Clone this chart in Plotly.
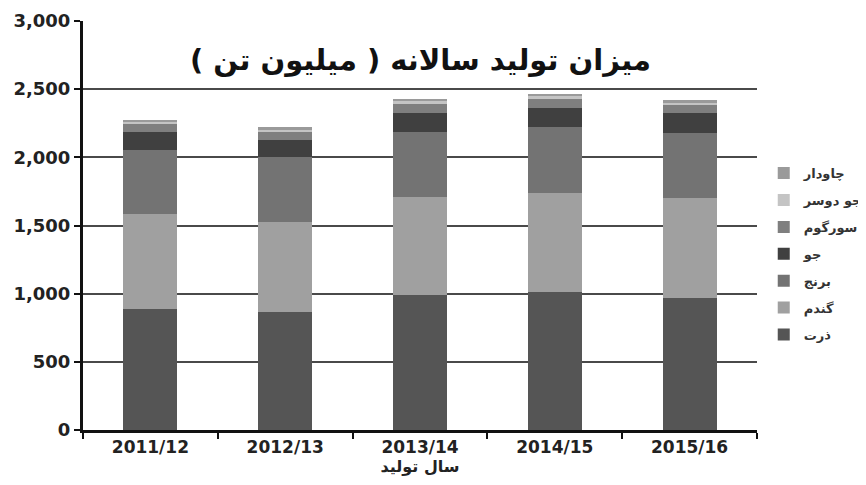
import plotly.graph_objects as go

categories = ["2011/12", "2012/13", "2013/14", "2014/15", "2015/16"]
series_names = ["ذرت", "گندم", "برنج", "جو", "سورگوم", "جو دوسر", "چاودار"]
corn = [888, 869, 991, 1014, 969]
wheat = [697, 658, 715, 728, 735]
rice = [467, 472, 478, 479, 471]
barley = [133, 130, 144, 141, 147]
sorghum = [57, 57, 62, 66, 60]
oats = [22, 21, 23, 23, 22]
rye = [13, 14, 16, 13, 13]
series_values = [corn, wheat, rice, barley, sorghum, oats, rye]
colors = ["#555555", "#a0a0a0", "#737373", "#404040", "#7f7f7f", "#c4c4c4", "#9a9a9a"]
y_ticks = [0, 500, 1000, 1500, 2000, 2500, 3000]

FONT = "DejaVu Sans"

fig = go.Figure()
n = len(series_names)
for i, (name, vals, col) in enumerate(zip(series_names, series_values, colors)):
    fig.add_trace(go.Bar(x=categories, y=vals, name=f"<b>{name}</b>", legendgroup=f"g{i}",
                         legendrank=n - i,
                         marker=dict(color=col, line=dict(width=0))))

fig.update_layout(
    barmode="stack",
    bargap=0.6,
    width=858, height=477,
    margin=dict(l=75, r=109, t=13, b=55, autoexpand=False),
    paper_bgcolor="white", plot_bgcolor="white",
    font=dict(family=FONT, color="#222222"),
    showlegend=True,
    legend=dict(x=1.01, y=0.43, xanchor="left", yanchor="middle",
                traceorder="grouped", font=dict(size=13, family=FONT, color="#333"),
                itemwidth=30, tracegroupgap=7),
    annotations=[dict(text="<b>میزان تولید سالانه ( میلیون تن )</b>", x=0.5, y=0.905,
                      xref="paper", yref="paper", xanchor="center", yanchor="middle",
                      showarrow=False, font=dict(size=29, family=FONT, color="#111"))],
)

fig.update_xaxes(
    type="category", showgrid=False, showline=True, linecolor="#111", linewidth=3,
    ticks="outside", tickson="boundaries", ticklen=6, tickwidth=2, tickcolor="#111",
    tickfont=dict(size=17, family=FONT, color="#222"),
    tickvals=categories, ticktext=[f"<b>{c}</b>" for c in categories],
    automargin=False,
    title=dict(text="<b>سال تولید</b>", font=dict(size=16, family=FONT, color="#222"), standoff=0),
)
fig.update_yaxes(
    range=[0, 3000], tickvals=y_ticks, ticktext=[f"<b>{v:,}</b>" for v in y_ticks],
    showgrid=True, gridcolor="#4a4a4a", gridwidth=2,
    showline=True, linecolor="#111", linewidth=3,
    ticks="outside", ticklen=6, tickwidth=2, tickcolor="#111",
    tickfont=dict(size=18, family=FONT, color="#222"),
    zeroline=False, automargin=False,
)

fig.write_html("out.html")
